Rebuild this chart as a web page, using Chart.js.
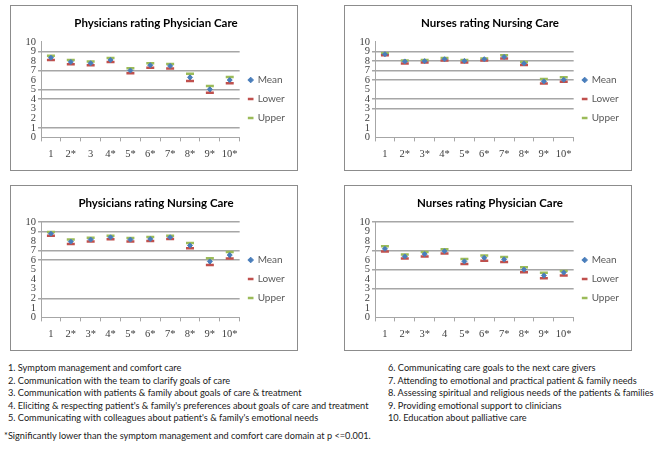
<!DOCTYPE html>
<html>
<head>
<meta charset="utf-8">
<script src="https://cdn.jsdelivr.net/npm/chart.js@4.4.0/dist/chart.umd.min.js"></script>
<style>
body { margin:0; background:#fff; width:663px; height:454px; position:relative; overflow:hidden; font-family:Lato, sans-serif; }
.panel { position:absolute; width:286px; height:164px; border:1px solid #8c8c8c; background:#fff; }
.panel canvas { display:block; }
.notes { position:absolute; font-size:9.2px; color:#1a1a1a; line-height:12.5px; white-space:nowrap; }
</style>
</head>
<body>
<div class="panel" style="left:10px;top:5px"><canvas id="c1" width="286" height="164"></canvas></div>
<div class="panel" style="left:344px;top:5px"><canvas id="c2" width="286" height="164"></canvas></div>
<div class="panel" style="left:10px;top:185px"><canvas id="c3" width="286" height="164"></canvas></div>
<div class="panel" style="left:344px;top:185px"><canvas id="c4" width="286" height="164"></canvas></div>

<div class="notes" style="left:8px;top:362px">
1. Symptom management and comfort care<br>
2. Communication with the team to clarify goals of care<br>
3. Communication with patients &amp; family about goals of care &amp; treatment<br>
4. Eliciting &amp; respecting patient's &amp; family's preferences about goals of care and treatment<br>
5. Communicating with colleagues about patient's &amp; family's emotional needs
</div>
<div class="notes" style="left:388px;top:362px">
6. Communicating care goals to the next care givers<br>
7. Attending to emotional and practical patient &amp; family needs<br>
8. Assessing spiritual and religious needs of the patients &amp; families<br>
9. Providing emotional support to clinicians<br>
10. Education about palliative care
</div>
<div class="notes" style="left:4px;top:430px">*Significantly lower than the symptom management and comfort care domain at p &lt;=0.001.</div>

<script>
// domain labels for each panel (asterisk = significantly lower)
var labelsPP = ['1', '2*', '3', '4*', '5*', '6*', '7*', '8*', '9*', '10*'];
var labelsNN = ['1', '2*', '3*', '4*', '5*', '6*', '7*', '8*', '9*', '10*'];
var labelsPN = ['1', '2*', '3*', '4*', '5*', '6*', '7*', '8*', '9*', '10*'];
var labelsNP = ['1', '2*', '3*', '4', '5*', '6*', '7*', '8*', '9*', '10*'];

// Physicians rating Physician Care
var meanPP  = [8.34, 7.90, 7.76, 8.10, 7.00, 7.55, 7.48, 6.28, 5.03, 6.00];
var lowerPP = [8.10, 7.65, 7.55, 7.90, 6.72, 7.28, 7.20, 5.90, 4.66, 5.66];
var upperPP = [8.55, 8.10, 7.93, 8.31, 7.24, 7.76, 7.69, 6.66, 5.38, 6.31];

// Nurses rating Nursing Care
var meanNN  = [8.70, 7.95, 7.98, 8.18, 8.00, 8.18, 8.42, 7.74, 5.86, 6.03];
var lowerNN = [8.60, 7.74, 7.84, 8.05, 7.84, 8.05, 8.25, 7.57, 5.65, 5.82];
var upperNN = [8.80, 8.05, 8.10, 8.30, 8.10, 8.25, 8.60, 7.88, 6.10, 6.30];

// Physicians rating Nursing Care
var meanPN  = [8.76, 7.93, 8.14, 8.38, 8.14, 8.20, 8.38, 7.52, 5.86, 6.52];
var lowerPN = [8.55, 7.69, 7.93, 8.17, 7.93, 8.00, 8.20, 7.24, 5.48, 6.17];
var upperPN = [8.93, 8.14, 8.34, 8.55, 8.31, 8.41, 8.55, 7.79, 6.20, 6.83];

// Nurses rating Physician Care
var meanNP  = [7.17, 6.38, 6.62, 6.93, 5.86, 6.24, 6.07, 5.00, 4.38, 4.69];
var lowerNP = [6.90, 6.17, 6.38, 6.69, 5.59, 5.93, 5.79, 4.72, 4.10, 4.38];
var upperNP = [7.45, 6.59, 6.83, 7.14, 6.10, 6.48, 6.31, 5.24, 4.66, 4.86];

var yTicks = [0, 1, 2, 3, 4, 5, 6, 7, 8, 9, 10];

// which horizontal gridlines show up in the scanned figure
var gridPP = [9, 7, 5, 4, 1];
var gridNN = [9, 8, 7, 6, 4, 3];
var gridPN = [10, 9, 7, 6, 2];
var gridNP = [10, 7, 5, 3];

var txt = '#404040';
var tickFont = { family: 'Liberation Serif', size: 10.5 };

function makeChart(id, title, labels, mean, lower, upper, grid)
{
    var ranges = [];
    for (var i in mean) {
        ranges.push([lower[i], upper[i]]);
    }

    new Chart(document.getElementById(id), {
        type: 'bar',
        data: {
            labels: labels,
            datasets: [
                {
                    type: 'line',
                    label: 'Mean',
                    data: mean,
                    showLine: false,
                    pointStyle: 'rectRot',
                    pointRadius: 2.5,
                    backgroundColor: '#4a7ebb',
                    borderColor: '#4a7ebb',
                    borderWidth: 1,
                    order: 0
                },
                {
                    type: 'line',
                    label: 'Lower',
                    data: lower,
                    showLine: false,
                    pointStyle: 'line',
                    pointRadius: 4,
                    borderColor: '#c0504d',
                    backgroundColor: '#c0504d',
                    pointBorderWidth: 2.5,
                    order: 1
                },
                {
                    type: 'line',
                    label: 'Upper',
                    data: upper,
                    showLine: false,
                    pointStyle: 'line',
                    pointRadius: 4,
                    borderColor: '#9bbb59',
                    backgroundColor: '#9bbb59',
                    pointBorderWidth: 2.5,
                    order: 2
                },
                {
                    label: 'range',
                    data: ranges,
                    backgroundColor: '#2c4d75',
                    barThickness: 1.5,
                    order: 3
                }
            ]
        },
        options: {
            responsive: false,
            animation: false,
            layout: { padding: { left: 6, right: 2, top: 0, bottom: 2 } },
            plugins: {
                title: {
                    display: true,
                    text: title,
                    color: '#000',
                    font: { family: 'Lato', size: 11.5, weight: 'bold' },
                    padding: { top: 10, bottom: 12 }
                },
                legend: {
                    position: 'right',
                    title: {
                        display: true,
                        text: ' ',
                        font: { size: 10 },
                        padding: 6
                    },
                    labels: {
                        filter: function (item) { return item.text !== 'range'; },
                        usePointStyle: true,
                        boxWidth: 4,
                        boxHeight: 4,
                        padding: 9,
                        color: '#595959',
                        font: { family: 'Lato', size: 10 }
                    }
                },
                tooltip: { enabled: false }
            },
            scales: {
                x: {
                    offset: true,
                    grid: {
                        offset: true,
                        drawOnChartArea: false,
                        drawTicks: true,
                        tickLength: 4,
                        color: '#a6a6a6'
                    },
                    border: { color: '#a6a6a6' },
                    ticks: {
                        color: txt,
                        padding: 7,
                        autoSkip: false,
                        maxRotation: 0,
                        font: tickFont
                    }
                },
                y: {
                    min: 0,
                    max: 10,
                    afterBuildTicks: function (axis) {
                        axis.ticks = yTicks.map(function (v) { return { value: v }; });
                    },
                    afterFit: function (axis) { axis.width = 24; },
                    grid: {
                        lineWidth: 1.5,
                        tickLength: 3,
                        color: function (ctx) {
                            if (ctx.tick && grid.indexOf(ctx.tick.value) >= 0) return '#a6a6a6';
                            return 'rgba(0,0,0,0)';
                        }
                    },
                    border: { color: '#a6a6a6' },
                    ticks: {
                        color: txt,
                        padding: 2,
                        autoSkip: false,
                        font: tickFont
                    }
                }
            }
        }
    });
}

makeChart('c1', 'Physicians rating Physician Care', labelsPP, meanPP, lowerPP, upperPP, gridPP);
makeChart('c2', 'Nurses rating Nursing Care', labelsNN, meanNN, lowerNN, upperNN, gridNN);
makeChart('c3', 'Physicians rating Nursing Care', labelsPN, meanPN, lowerPN, upperPN, gridPN);
makeChart('c4', 'Nurses rating Physician Care', labelsNP, meanNP, lowerNP, upperNP, gridNP);
</script>
</body>
</html>
